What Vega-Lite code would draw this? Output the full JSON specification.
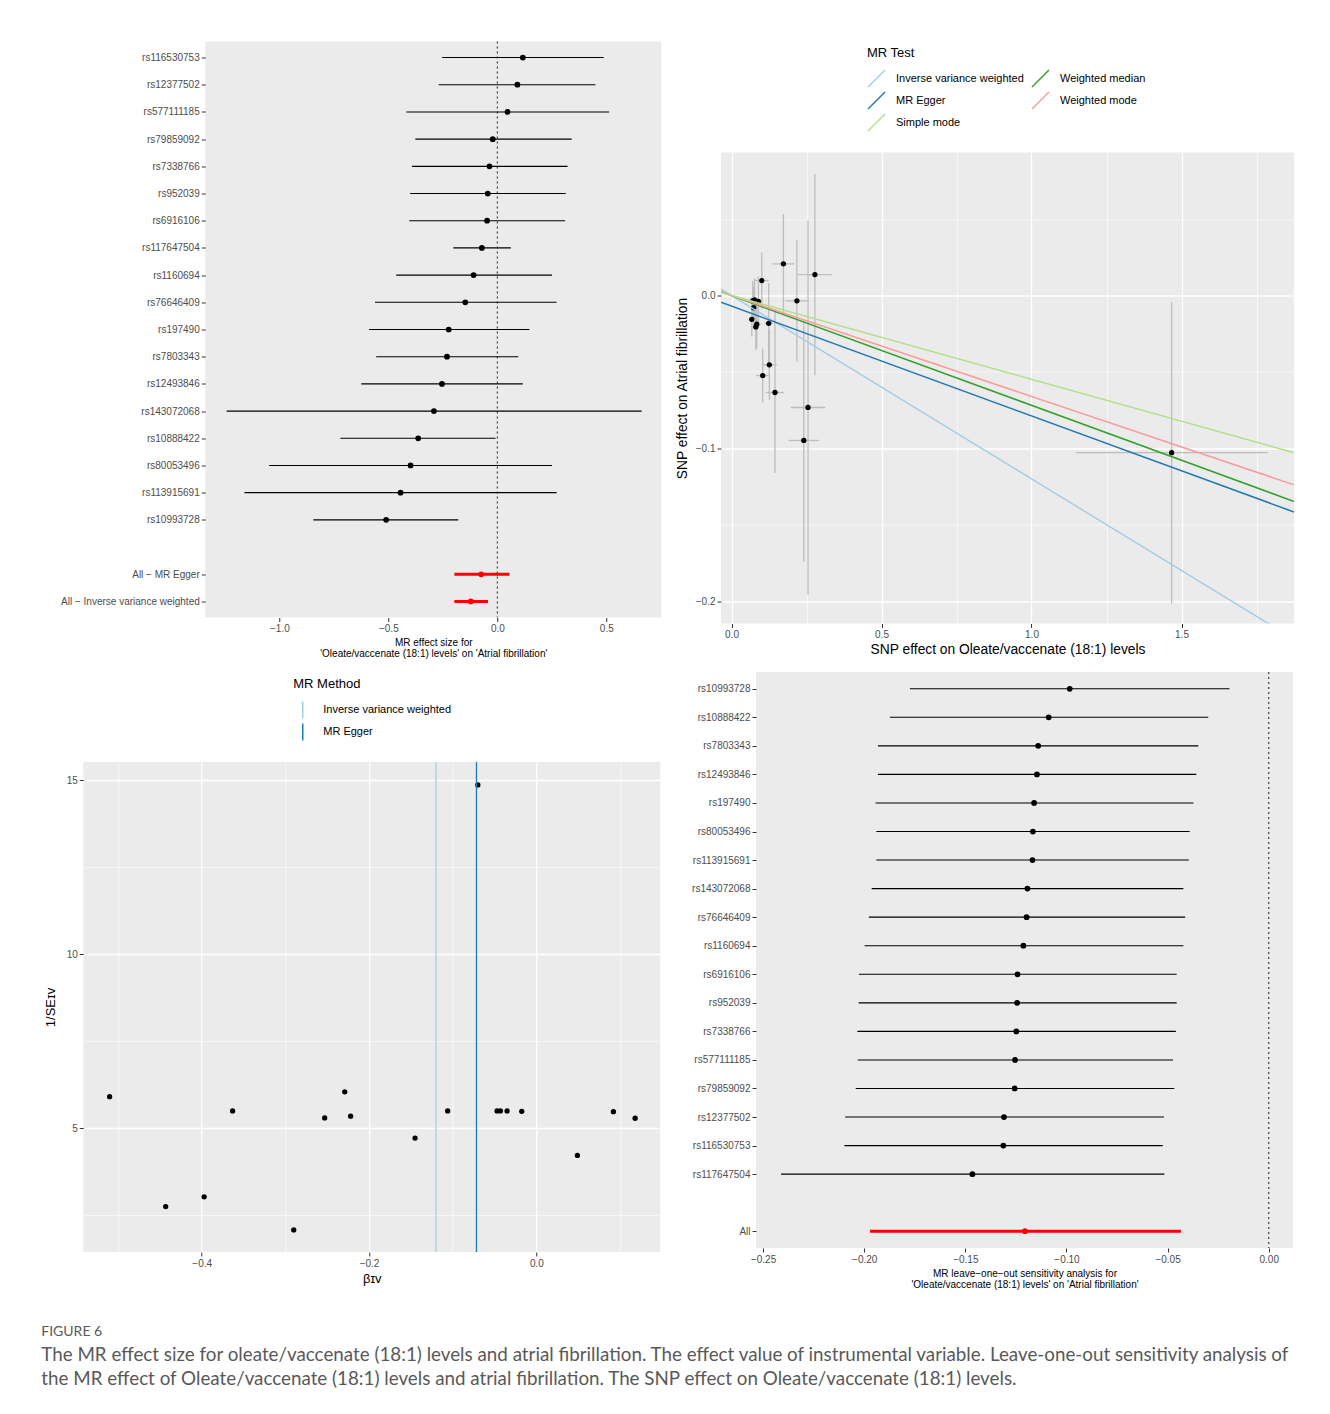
{
  "$schema": "https://vega.github.io/schema/vega-lite/v6.json",
  "padding": {"left": 40.5, "top": 40, "right": 20, "bottom": 10},
  "background": "white",
  "title": {
    "text": "FIGURE 6",
    "subtitle": ["The MR effect size for oleate/vaccenate (18:1) levels and atrial fibrillation. The effect value of instrumental variable. Leave-one-out sensitivity analysis of", "the MR effect of Oleate/vaccenate (18:1) levels and atrial fibrillation. The SNP effect on Oleate/vaccenate (18:1) levels."],
    "orient": "bottom", "anchor": "start", "offset": 36, "dx": -3,
    "font": "Lato", "fontSize": 14, "fontWeight": "normal", "color": "#595959",
    "subtitleFont": "Lato", "subtitleFontSize": 18.8, "subtitleColor": "#595959", "subtitleLineHeight": 24, "subtitlePadding": 7
  },
  "datasets": {
    "forest": [
      {"label": "rs116530753", "b": 0.117, "lo": -0.253, "hi": 0.488, "type": "snp"},
      {"label": "rs12377502", "b": 0.092, "lo": -0.269, "hi": 0.450, "type": "snp"},
      {"label": "rs577111185", "b": 0.047, "lo": -0.417, "hi": 0.513, "type": "snp"},
      {"label": "rs79859092", "b": -0.021, "lo": -0.376, "hi": 0.341, "type": "snp"},
      {"label": "rs7338766", "b": -0.036, "lo": -0.392, "hi": 0.322, "type": "snp"},
      {"label": "rs952039", "b": -0.044, "lo": -0.400, "hi": 0.314, "type": "snp"},
      {"label": "rs6916106", "b": -0.047, "lo": -0.404, "hi": 0.311, "type": "snp"},
      {"label": "rs117647504", "b": -0.071, "lo": -0.202, "hi": 0.062, "type": "snp"},
      {"label": "rs1160694", "b": -0.109, "lo": -0.464, "hi": 0.251, "type": "snp"},
      {"label": "rs76646409", "b": -0.147, "lo": -0.561, "hi": 0.272, "type": "snp"},
      {"label": "rs197490", "b": -0.223, "lo": -0.589, "hi": 0.147, "type": "snp"},
      {"label": "rs7803343", "b": -0.231, "lo": -0.556, "hi": 0.096, "type": "snp"},
      {"label": "rs12493846", "b": -0.254, "lo": -0.624, "hi": 0.117, "type": "snp"},
      {"label": "rs143072068", "b": -0.291, "lo": -1.242, "hi": 0.662, "type": "snp"},
      {"label": "rs10888422", "b": -0.363, "lo": -0.720, "hi": -0.008, "type": "snp"},
      {"label": "rs80053496", "b": -0.398, "lo": -1.047, "hi": 0.251, "type": "snp"},
      {"label": "rs113915691", "b": -0.444, "lo": -1.160, "hi": 0.272, "type": "snp"},
      {"label": "rs10993728", "b": -0.510, "lo": -0.844, "hi": -0.179, "type": "snp"},
      {"label": "All − MR Egger", "b": -0.074, "lo": -0.197, "hi": 0.055, "type": "all"},
      {"label": "All − Inverse variance weighted", "b": -0.122, "lo": -0.197, "hi": -0.043, "type": "all"}
    ],
    "scatter": [
      {"snp": "rs116530753", "bx": 0.173, "xlo": 0.137, "xhi": 0.209, "by": 0.0207, "ylo": -0.0120, "yhi": 0.0534},
      {"snp": "rs12377502", "bx": 0.101, "xlo": 0.078, "xhi": 0.124, "by": 0.0098, "ylo": -0.0086, "yhi": 0.0282},
      {"snp": "rs577111185", "bx": 0.278, "xlo": 0.222, "xhi": 0.334, "by": 0.0137, "ylo": -0.0522, "yhi": 0.0796},
      {"snp": "rs79859092", "bx": 0.218, "xlo": 0.179, "xhi": 0.257, "by": -0.0035, "ylo": -0.0432, "yhi": 0.0362},
      {"snp": "rs7338766", "bx": 0.077, "xlo": 0.065, "xhi": 0.089, "by": -0.0028, "ylo": -0.0168, "yhi": 0.0112},
      {"snp": "rs952039", "bx": 0.0897, "xlo": 0.0757, "xhi": 0.1037, "by": -0.0039, "ylo": -0.0202, "yhi": 0.0124},
      {"snp": "rs6916106", "bx": 0.071, "xlo": 0.060, "xhi": 0.082, "by": -0.0033, "ylo": -0.0162, "yhi": 0.0096},
      {"snp": "rs117647504", "bx": 1.467, "xlo": 1.147, "xhi": 1.787, "by": -0.1029, "ylo": -0.2016, "yhi": -0.0042},
      {"snp": "rs1160694", "bx": 0.074, "xlo": 0.062, "xhi": 0.086, "by": -0.0080, "ylo": -0.0215, "yhi": 0.0055},
      {"snp": "rs76646409", "bx": 0.124, "xlo": 0.110, "xhi": 0.138, "by": -0.0182, "ylo": -0.0445, "yhi": 0.0081},
      {"snp": "rs197490", "bx": 0.0843, "xlo": 0.0713, "xhi": 0.0973, "by": -0.0188, "ylo": -0.0346, "yhi": -0.0030},
      {"snp": "rs7803343", "bx": 0.0676, "xlo": 0.0576, "xhi": 0.0776, "by": -0.0156, "ylo": -0.0268, "yhi": -0.0044},
      {"snp": "rs12493846", "bx": 0.081, "xlo": 0.069, "xhi": 0.093, "by": -0.0206, "ylo": -0.0359, "yhi": -0.0053},
      {"snp": "rs143072068", "bx": 0.255, "xlo": 0.198, "xhi": 0.312, "by": -0.0733, "ylo": -0.1959, "yhi": 0.0493},
      {"snp": "rs10888422", "bx": 0.126, "xlo": 0.101, "xhi": 0.151, "by": -0.0454, "ylo": -0.0683, "yhi": -0.0225},
      {"snp": "rs80053496", "bx": 0.241, "xlo": 0.190, "xhi": 0.292, "by": -0.0949, "ylo": -0.1744, "yhi": -0.0154},
      {"snp": "rs113915691", "bx": 0.145, "xlo": 0.114, "xhi": 0.176, "by": -0.0635, "ylo": -0.1162, "yhi": -0.0108},
      {"snp": "rs10993728", "bx": 0.104, "xlo": 0.082, "xhi": 0.126, "by": -0.0524, "ylo": -0.0700, "yhi": -0.0348}
    ],
    "lines": [
      {"method": "Inverse variance weighted", "x": -0.035, "y": 0.0042},
      {"method": "Inverse variance weighted", "x": 1.875, "y": -0.225},
      {"method": "Weighted median", "x": -0.035, "y": 0.0025},
      {"method": "Weighted median", "x": 1.875, "y": -0.1348},
      {"method": "MR Egger", "x": -0.035, "y": -0.0044},
      {"method": "MR Egger", "x": 1.875, "y": -0.1417},
      {"method": "Weighted mode", "x": -0.035, "y": 0.0023},
      {"method": "Weighted mode", "x": 1.875, "y": -0.1239},
      {"method": "Simple mode", "x": -0.035, "y": 0.0019},
      {"method": "Simple mode", "x": 1.875, "y": -0.1029}
    ],
    "funnel": [
      {"snp": "rs10993728", "beta": -0.510, "inv_se": 5.91},
      {"snp": "rs113915691", "beta": -0.443, "inv_se": 2.75},
      {"snp": "rs80053496", "beta": -0.397, "inv_se": 3.03},
      {"snp": "rs10888422", "beta": -0.363, "inv_se": 5.50},
      {"snp": "rs143072068", "beta": -0.290, "inv_se": 2.08},
      {"snp": "rs12493846", "beta": -0.253, "inv_se": 5.30},
      {"snp": "rs7803343", "beta": -0.229, "inv_se": 6.05},
      {"snp": "rs197490", "beta": -0.222, "inv_se": 5.35},
      {"snp": "rs76646409", "beta": -0.145, "inv_se": 4.72},
      {"snp": "rs1160694", "beta": -0.106, "inv_se": 5.50},
      {"snp": "rs117647504", "beta": -0.070, "inv_se": 14.87},
      {"snp": "rs6916106", "beta": -0.047, "inv_se": 5.50},
      {"snp": "rs952039", "beta": -0.043, "inv_se": 5.50},
      {"snp": "rs7338766", "beta": -0.035, "inv_se": 5.50},
      {"snp": "rs79859092", "beta": -0.0175, "inv_se": 5.49},
      {"snp": "rs577111185", "beta": 0.049, "inv_se": 4.22},
      {"snp": "rs12377502", "beta": 0.092, "inv_se": 5.48},
      {"snp": "rs116530753", "beta": 0.118, "inv_se": 5.29}
    ],
    "funnel_methods": [
      {"method": "Inverse variance weighted", "b": -0.120},
      {"method": "MR Egger", "b": -0.0716}
    ],
    "loo": [
      {"label": "rs10993728", "b": -0.0984, "lo": -0.1774, "hi": -0.0194, "type": "snp"},
      {"label": "rs10888422", "b": -0.1088, "lo": -0.1873, "hi": -0.0299, "type": "snp"},
      {"label": "rs7803343", "b": -0.1140, "lo": -0.1932, "hi": -0.0348, "type": "snp"},
      {"label": "rs12493846", "b": -0.1146, "lo": -0.1932, "hi": -0.0358, "type": "snp"},
      {"label": "rs197490", "b": -0.1160, "lo": -0.1944, "hi": -0.0372, "type": "snp"},
      {"label": "rs80053496", "b": -0.1166, "lo": -0.1940, "hi": -0.0391, "type": "snp"},
      {"label": "rs113915691", "b": -0.1168, "lo": -0.1940, "hi": -0.0395, "type": "snp"},
      {"label": "rs143072068", "b": -0.1193, "lo": -0.1963, "hi": -0.0422, "type": "snp"},
      {"label": "rs76646409", "b": -0.1197, "lo": -0.1977, "hi": -0.0413, "type": "snp"},
      {"label": "rs1160694", "b": -0.1213, "lo": -0.1998, "hi": -0.0422, "type": "snp"},
      {"label": "rs6916106", "b": -0.1242, "lo": -0.2026, "hi": -0.0455, "type": "snp"},
      {"label": "rs952039", "b": -0.1244, "lo": -0.2028, "hi": -0.0455, "type": "snp"},
      {"label": "rs7338766", "b": -0.1248, "lo": -0.2034, "hi": -0.0459, "type": "snp"},
      {"label": "rs577111185", "b": -0.1254, "lo": -0.2032, "hi": -0.0473, "type": "snp"},
      {"label": "rs79859092", "b": -0.1256, "lo": -0.2042, "hi": -0.0467, "type": "snp"},
      {"label": "rs12377502", "b": -0.1309, "lo": -0.2094, "hi": -0.0518, "type": "snp"},
      {"label": "rs116530753", "b": -0.1312, "lo": -0.2098, "hi": -0.0524, "type": "snp"},
      {"label": "rs117647504", "b": -0.1465, "lo": -0.2411, "hi": -0.0516, "type": "snp"},
      {"label": "All", "b": -0.1205, "lo": -0.1971, "hi": -0.0434, "type": "all"}
    ],
    "blank": [{"k": 0}]
  },
  "columns": 3,
  "align": "none",
  "bounds": "full",
  "spacing": {"row": -98.5, "column": -107.25},
  "resolve": {"scale": {"color": "independent"}, "legend": {"color": "independent"}},
  "concat": [
    {"width": 1, "height": 1, "data": {"name": "blank"}, "mark": {"type": "point", "size": 0, "opacity": 0}, "view": {"fill": "transparent", "stroke": null}},
    {"width": 1, "height": 1, "data": {"name": "blank"}, "mark": {"type": "point", "size": 0, "opacity": 0}, "view": {"fill": "transparent", "stroke": null}},
    {"width": 1, "height": 1, "data": {"name": "blank"}, "mark": {"type": "point", "size": 0, "opacity": 0}, "view": {"fill": "transparent", "stroke": null}},
    {"width": 1, "height": 1, "data": {"name": "blank"}, "mark": {"type": "point", "size": 0, "opacity": 0}, "view": {"fill": "transparent", "stroke": null}},
    {
      "width": 456, "height": 576,
      "layer": [
        {
          "data": {"values": [{}]},
          "mark": {"type": "rule", "strokeDash": [2, 3], "color": "#333333", "strokeWidth": 1.1},
          "encoding": {"x": {"datum": 0, "type": "quantitative"}}
        },
        {
          "data": {"name": "forest"},
          "transform": [{"filter": "datum.type === 'snp'"}],
          "mark": {"type": "rule", "color": "black", "strokeWidth": 1.1},
          "encoding": {
            "x": {"field": "lo", "type": "quantitative", "scale": {"domain": [-1.34, 0.752], "nice": false, "zero": false},
              "axis": {
                "title": ["MR effect size for", "'Oleate/vaccenate (18:1) levels' on 'Atrial fibrillation'"],
                "titleFontSize": 10, "titleLineHeight": 11, "labelFlush": false,
                "values": [-1.25, -1, -0.75, -0.5, -0.25, 0, 0.25, 0.5, 0.75],
                "labelExpr": "abs(datum.value*2-round(datum.value*2))<0.001 ? format(datum.value,'.1f') : ''",
                "gridWidth": {"condition": {"test": "abs(datum.value*2-round(datum.value*2))<0.001", "value": 1.3}, "value": 0.6},
                "tickColor": {"condition": {"test": "abs(datum.value*2-round(datum.value*2))<0.001", "value": "#333333"}, "value": "transparent"}
              }},
            "x2": {"field": "hi"},
            "y": {"field": "label", "type": "nominal", "sort": null,
              "scale": {"type": "point", "padding": 0.59, "domain": ["rs116530753","rs12377502","rs577111185","rs79859092","rs7338766","rs952039","rs6916106","rs117647504","rs1160694","rs76646409","rs197490","rs7803343","rs12493846","rs143072068","rs10888422","rs80053496","rs113915691","rs10993728"," ","All − MR Egger","All − Inverse variance weighted"]},
              "axis": {
                "title": ".", "titleColor": "transparent", "titleX": -160.5, "titleY": 288, "titleAngle": 0, "titleAlign": "left", "titleBaseline": "middle",
                "gridColor": {"condition": {"test": "datum.value === ' '", "value": "#BDBDBD"}, "value": "white"},
                "gridWidth": {"condition": {"test": "datum.value === ' '", "value": 1.8}, "value": 1.3},
                "tickColor": {"condition": {"test": "datum.value === ' '", "value": "transparent"}, "value": "#333333"}
              }}
          }
        },
        {
          "data": {"name": "forest"},
          "transform": [{"filter": "datum.type === 'all'"}],
          "mark": {"type": "rule", "color": "#FF0000", "strokeWidth": 3},
          "encoding": {"x": {"field": "lo", "type": "quantitative"}, "x2": {"field": "hi"}, "y": {"field": "label", "type": "nominal"}}
        },
        {
          "data": {"name": "forest"},
          "mark": {"type": "point", "filled": true, "size": 33, "opacity": 1},
          "encoding": {
            "x": {"field": "b", "type": "quantitative"},
            "y": {"field": "label", "type": "nominal"},
            "color": {"condition": {"test": "datum.type === 'all'", "value": "#FF0000"}, "value": "black"}
          }
        }
      ]
    },
    {
      "width": 573, "height": 471,
      "layer": [
        {
          "data": {"name": "scatter"},
          "mark": {"type": "rule", "color": "#BDBDBD", "strokeWidth": 1.3, "clip": true},
          "encoding": {
            "x": {"field": "bx", "type": "quantitative", "scale": {"domain": [-0.035, 1.875], "nice": false, "zero": false},
              "axis": {
                "title": "SNP effect on Oleate/vaccenate (18:1) levels", "titleFontSize": 13.8, "titlePadding": 3, "labelFlush": false,
                "values": [0, 0.25, 0.5, 0.75, 1, 1.25, 1.5, 1.75],
                "labelExpr": "abs(datum.value*2-round(datum.value*2))<0.001 ? format(datum.value,'.1f') : ''",
                "gridWidth": {"condition": {"test": "abs(datum.value*2-round(datum.value*2))<0.001", "value": 1.3}, "value": 0.6},
                "tickColor": {"condition": {"test": "abs(datum.value*2-round(datum.value*2))<0.001", "value": "#333333"}, "value": "transparent"}
              }},
            "y": {"field": "ylo", "type": "quantitative", "scale": {"domain": [-0.2147, 0.0936], "nice": false, "zero": false},
              "axis": {
                "title": "SNP effect on Atrial fibrillation", "titleFontSize": 13.8, "titleX": -39, "titleAngle": -90, "titleBaseline": "middle", "titleAlign": "center",
                "values": [-0.2, -0.15, -0.1, -0.05, 0, 0.05],
                "labelExpr": "abs(datum.value*10-round(datum.value*10))<0.001 ? format(datum.value,'.1f') : ''",
                "gridWidth": {"condition": {"test": "abs(datum.value*10-round(datum.value*10))<0.001", "value": 1.3}, "value": 0.6},
                "tickColor": {"condition": {"test": "abs(datum.value*10-round(datum.value*10))<0.001", "value": "#333333"}, "value": "transparent"}
              }},
            "y2": {"field": "yhi"}
          }
        },
        {
          "data": {"name": "scatter"},
          "mark": {"type": "rule", "color": "#BDBDBD", "strokeWidth": 1.3, "clip": true},
          "encoding": {
            "x": {"field": "xlo", "type": "quantitative", "title": "SNP effect on Oleate/vaccenate (18:1) levels"},
            "x2": {"field": "xhi"},
            "y": {"field": "by", "type": "quantitative", "title": "SNP effect on Atrial fibrillation"}
          }
        },
        {
          "data": {"name": "scatter"},
          "mark": {"type": "point", "filled": true, "color": "black", "size": 28, "opacity": 1},
          "encoding": {
            "x": {"field": "bx", "type": "quantitative", "title": "SNP effect on Oleate/vaccenate (18:1) levels"},
            "y": {"field": "by", "type": "quantitative", "title": "SNP effect on Atrial fibrillation"}
          }
        },
        {
          "data": {"name": "lines"},
          "mark": {"type": "line", "clip": true, "strokeWidth": 1.5},
          "encoding": {
            "x": {"field": "x", "type": "quantitative", "title": "SNP effect on Oleate/vaccenate (18:1) levels"},
            "y": {"field": "y", "type": "quantitative", "title": "SNP effect on Atrial fibrillation"},
            "color": {"field": "method", "type": "nominal",
              "scale": {"domain": ["Inverse variance weighted", "MR Egger", "Simple mode", "Weighted median", "Weighted mode"], "range": ["#A6CEE3", "#1F78B4", "#B2DF8A", "#33A02C", "#FB9A99"]},
              "legend": {"title": "MR Test", "orient": "none", "legendX": 140, "legendY": -112, "padding": 6, "columns": 2,
                "symbolType": "M-1,1L1,-1", "symbolSize": 289, "symbolStrokeWidth": 1.5, "rowPadding": -1, "columnPadding": 5, "labelOffset": 10, "titlePadding": 9.5}}
          }
        }
      ]
    },
    {"width": 1, "height": 1, "data": {"name": "blank"}, "mark": {"type": "point", "size": 0, "opacity": 0}, "view": {"fill": "transparent", "stroke": null}},
    {
      "width": 577, "height": 490,
      "layer": [
        {
          "data": {"name": "funnel"},
          "mark": {"type": "point", "filled": true, "color": "black", "size": 28, "opacity": 1},
          "encoding": {
            "x": {"field": "beta", "type": "quantitative", "scale": {"domain": [-0.5415, 0.148], "nice": false, "zero": false},
              "axis": {
                "title": "βɪᴠ", "titleFontSize": 13, "labelFlush": false,
                "values": [-0.5, -0.4, -0.3, -0.2, -0.1, 0, 0.1],
                "labelExpr": "abs(datum.value*5-round(datum.value*5))<0.001 ? format(datum.value,'.1f') : ''",
                "gridWidth": {"condition": {"test": "abs(datum.value*5-round(datum.value*5))<0.001", "value": 1.3}, "value": 0.6},
                "tickColor": {"condition": {"test": "abs(datum.value*5-round(datum.value*5))<0.001", "value": "#333333"}, "value": "transparent"}
              }},
            "y": {"field": "inv_se", "type": "quantitative", "scale": {"domain": [1.445, 15.53], "nice": false, "zero": false},
              "axis": {
                "title": "1/SEɪᴠ", "titleFontSize": 13, "titleX": -33, "titleAngle": -90, "titleBaseline": "middle", "titleAlign": "center",
                "values": [2.5, 5, 7.5, 10, 12.5, 15],
                "labelExpr": "datum.value % 5 === 0 ? format(datum.value,'d') : ''",
                "gridWidth": {"condition": {"test": "datum.value % 5 === 0", "value": 1.3}, "value": 0.6},
                "tickColor": {"condition": {"test": "datum.value % 5 === 0", "value": "#333333"}, "value": "transparent"}
              }}
          }
        },
        {
          "data": {"name": "funnel_methods"},
          "mark": {"type": "rule", "strokeWidth": 1.3},
          "encoding": {
            "x": {"field": "b", "type": "quantitative", "title": "βɪᴠ"},
            "color": {"field": "method", "type": "nominal",
              "scale": {"domain": ["Inverse variance weighted", "MR Egger"], "range": ["#A6CEE3", "#1F78B4"]},
              "legend": {"title": "MR Method", "orient": "none", "legendX": 92, "legendY": -202, "padding": 118,
                "symbolType": "M0,-1L0,1", "symbolSize": 289, "symbolStrokeWidth": 1.5, "rowPadding": -1, "labelOffset": 11, "titlePadding": 9.5}}
          }
        }
      ]
    },
    {
      "width": 537, "height": 576,
      "layer": [
        {
          "data": {"values": [{}]},
          "mark": {"type": "rule", "strokeDash": [2, 3], "color": "#333333", "strokeWidth": 1.1},
          "encoding": {"x": {"datum": 0, "type": "quantitative"}}
        },
        {
          "data": {"name": "loo"},
          "transform": [{"filter": "datum.type === 'snp'"}],
          "mark": {"type": "rule", "color": "black", "strokeWidth": 1.1},
          "encoding": {
            "x": {"field": "lo", "type": "quantitative", "scale": {"domain": [-0.2535, 0.012], "nice": false, "zero": false},
              "axis": {
                "title": ["MR leave−one−out sensitivity analysis for", "'Oleate/vaccenate (18:1) levels' on 'Atrial fibrillation'"],
                "titleFontSize": 10, "titleLineHeight": 11, "labelFlush": false,
                "values": [-0.25, -0.225, -0.2, -0.175, -0.15, -0.125, -0.1, -0.075, -0.05, -0.025, 0],
                "labelExpr": "abs(datum.value*20-round(datum.value*20))<0.001 ? format(datum.value,'.2f') : ''",
                "gridWidth": {"condition": {"test": "abs(datum.value*20-round(datum.value*20))<0.001", "value": 1.3}, "value": 0.6},
                "tickColor": {"condition": {"test": "abs(datum.value*20-round(datum.value*20))<0.001", "value": "#333333"}, "value": "transparent"}
              }},
            "x2": {"field": "hi"},
            "y": {"field": "label", "type": "nominal", "sort": null,
              "scale": {"type": "point", "padding": 0.5875, "domain": ["rs10993728","rs10888422","rs7803343","rs12493846","rs197490","rs80053496","rs113915691","rs143072068","rs76646409","rs1160694","rs6916106","rs952039","rs7338766","rs577111185","rs79859092","rs12377502","rs116530753","rs117647504"," ","All"]},
              "axis": {
                "title": ".", "titleColor": "transparent", "titleX": -202.25, "titleY": 288, "titleAngle": 0, "titleAlign": "left", "titleBaseline": "middle",
                "gridColor": {"condition": {"test": "datum.value === ' '", "value": "#BDBDBD"}, "value": "white"},
                "gridWidth": {"condition": {"test": "datum.value === ' '", "value": 1.8}, "value": 1.3},
                "tickColor": {"condition": {"test": "datum.value === ' '", "value": "transparent"}, "value": "#333333"}
              }}
          }
        },
        {
          "data": {"name": "loo"},
          "transform": [{"filter": "datum.type === 'all'"}],
          "mark": {"type": "rule", "color": "#FF0000", "strokeWidth": 3},
          "encoding": {"x": {"field": "lo", "type": "quantitative"}, "x2": {"field": "hi"}, "y": {"field": "label", "type": "nominal"}}
        },
        {
          "data": {"name": "loo"},
          "mark": {"type": "point", "filled": true, "size": 33, "opacity": 1},
          "encoding": {
            "x": {"field": "b", "type": "quantitative"},
            "y": {"field": "label", "type": "nominal"},
            "color": {"condition": {"test": "datum.type === 'all'", "value": "#FF0000"}, "value": "black"}
          }
        }
      ]
    }
  ],
  "config": {
    "font": "Liberation Sans",
    "view": {"fill": "#EBEBEB", "stroke": null},
    "axis": {"domain": false, "gridColor": "white", "gridWidth": 1.3, "tickColor": "#333333", "tickSize": 4, "tickWidth": 1, "labelColor": "#4D4D4D", "labelFontSize": 10, "labelPadding": 2, "titleFontWeight": "normal", "titleColor": "black", "titlePadding": 4},
    "legend": {"titleFontWeight": "normal", "titleColor": "black", "labelColor": "black", "titleFontSize": 13, "labelFontSize": 11}
  }
}
